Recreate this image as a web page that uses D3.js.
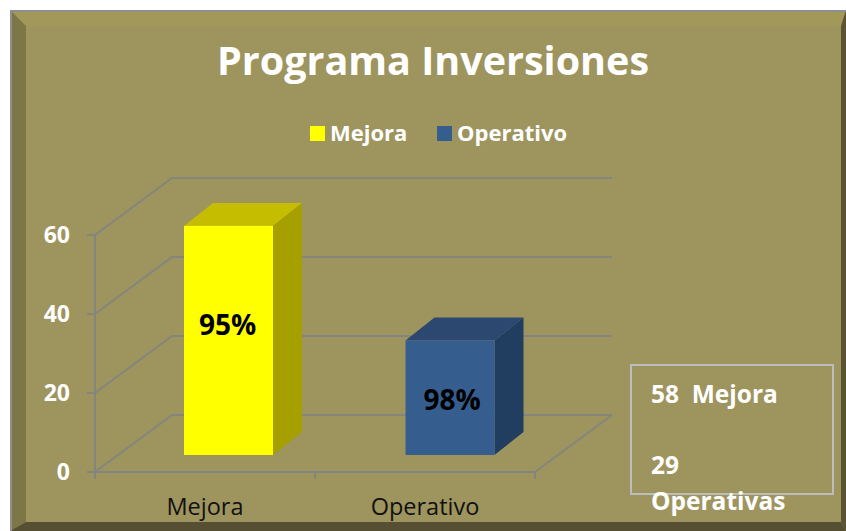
<!DOCTYPE html>
<html>
<head>
<meta charset="utf-8">
<script src="https://cdn.jsdelivr.net/npm/d3@7"></script>
<style>
  html,body{margin:0;padding:0;background:#fff;overflow:hidden}
  text{font-family:"Open Sans",Lato,sans-serif;white-space:pre}
</style>
</head>
<body>
<svg id="chart" width="846" height="531"></svg>
<script>
/* ---------- data ---------- */
const categories = ['Mejora','Operativo'];
const values     = [58,29];
const percents   = ['95%','98%'];
const yTicks     = [0,20,40,60];
const noteLines  = ['58  Mejora','','29','Operativas'];

/* ---------- colours per series: front, top, side ---------- */
const barColours = [
  {front:'#ffff00', top:'#c4bd00', side:'#a5a000'},
  {front:'#355e8f', top:'#2c4870', side:'#213d5f'}
];

const svg = d3.select('#chart');

/* ---------- frame + bevel ---------- */
const F = {l:10, t:10, r:846, b:531, il:26, it:26, ir:841, ib:522};
const pts = a => a.map(p=>p.join(',')).join(' ');

svg.append('rect').attr('x',F.l).attr('y',F.t).attr('width',F.r-F.l).attr('height',F.b-F.t).attr('fill','#9e945e');
svg.append('polygon').attr('points',pts([[F.l,F.t],[F.r,F.t],[F.ir,F.it],[F.il,F.it]])).attr('fill','#a29859');
svg.append('polygon').attr('points',pts([[F.l,F.t],[F.il,F.it],[F.il,F.ib],[F.l,F.b]])).attr('fill','#7d7747');
svg.append('polygon').attr('points',pts([[F.r,F.t],[F.r,F.b],[F.ir,F.ib],[F.ir,F.it]])).attr('fill','#5a5435');
svg.append('polygon').attr('points',pts([[F.l,F.b],[F.il,F.ib],[F.ir,F.ib],[F.r,F.b]])).attr('fill','#564f33');
svg.append('path').attr('d',`M${F.l+1},${F.b}V${F.t+1}H${F.r}`)
   .attr('fill','none').attr('stroke','#8e8e8e').attr('stroke-width',2);

/* ---------- title ---------- */
svg.append('text').attr('x',433).attr('y',75).attr('text-anchor','middle')
   .attr('fill','#fff').attr('font-weight',700).attr('font-size',39.5)
   .text('Programa Inversiones');

/* ---------- legend ---------- */
const legendX = [310,437];
const lg = svg.append('g').selectAll('g').data(categories).enter().append('g')
   .attr('transform',(d,i)=>`translate(${legendX[i]},126)`);
lg.append('rect').attr('width',15).attr('height',15).attr('fill',(d,i)=>barColours[i].front);
lg.append('text').attr('x',20).attr('y',15).attr('fill','#fff')
   .attr('font-weight',700).attr('font-size',22).text(d=>d);

/* ---------- scales ---------- */
const xAxis = d3.scaleBand().domain(categories).range([95,535]);   // axis + labels
const xBars = d3.scaleBand().domain(categories).range([95,538]);   // bars sit a bit wider
const y = d3.scaleLinear().domain([0,60]).range([472,235]);
const backDx = 77, backDy = -57;      // floor depth
const gridCol = '#85857f';

/* ---------- back wall, side wall, floor ---------- */
const grid = svg.append('g').attr('fill','none').attr('stroke',gridCol).attr('stroke-width',2);
yTicks.forEach(t=>{
  grid.append('path').attr('d',
    `M${xAxis.range()[0]},${y(t)}L${xAxis.range()[0]+backDx},${y(t)+backDy}H${xAxis.range()[1]+backDx}`);
  grid.append('line').attr('x1',87).attr('x2',95).attr('y1',y(t)).attr('y2',y(t));
});
grid.append('line').attr('x1',95).attr('x2',95).attr('y1',y(60)).attr('y2',y(0)+7);
grid.append('line').attr('x1',95).attr('x2',xAxis.range()[1]).attr('y1',y(0)).attr('y2',y(0));
grid.append('line').attr('x1',xAxis.range()[1]).attr('x2',xAxis.range()[1]+backDx)
    .attr('y1',y(0)).attr('y2',y(0)+backDy);
[95,315,535].forEach(px=>{
  grid.append('line').attr('x1',px).attr('x2',px).attr('y1',y(0)).attr('y2',y(0)+7);
});

/* ---------- y tick labels ---------- */
svg.append('g').selectAll('text').data(yTicks).enter().append('text')
   .attr('x',70).attr('y',d=>y(d)+8).attr('text-anchor','end')
   .attr('fill','#fff').attr('font-weight',700).attr('font-size',23)
   .text(d=>d);

/* ---------- x tick labels ---------- */
svg.append('g').selectAll('text').data(categories).enter().append('text')
   .attr('x',d=>xAxis(d)+xAxis.bandwidth()/2).attr('y',515).attr('text-anchor','middle')
   .attr('fill','#111').attr('font-size',23.5)
   .text(d=>d);

/* ---------- 3d bars ---------- */
const barW = 89, midDx = 22.75, midDy = -17, depthDx = 29, depthDy = -23;
const bars = svg.append('g').selectAll('g').data(values).enter().append('g');

bars.each(function(v,i){
  const g  = d3.select(this),
        c  = barColours[i],
        x0 = xBars(categories[i]) + xBars.bandwidth()/2 + midDx - barW/2,
        x1 = x0 + barW,
        yb = y(0) + midDy,
        yt = y(v) + midDy;
  g.append('polygon').attr('fill',c.top)
   .attr('points',pts([[x0,yt],[x1,yt],[x1+depthDx,yt+depthDy],[x0+depthDx,yt+depthDy]]));
  g.append('polygon').attr('fill',c.side)
   .attr('points',pts([[x1,yt],[x1+depthDx,yt+depthDy],[x1+depthDx,yb+depthDy],[x1,yb]]));
  g.append('rect').attr('x',x0).attr('y',yt).attr('width',barW).attr('height',yb-yt).attr('fill',c.front);
});

/* ---------- percentage labels ---------- */
const labelY = [335,410];
bars.append('text')
   .attr('x',(d,i)=>xBars(categories[i])+xBars.bandwidth()/2+midDx-(i?-2:1))
   .attr('y',(d,i)=>labelY[i])
   .attr('text-anchor','middle').attr('fill','#000')
   .attr('font-weight',700).attr('font-size',28)
   .text((d,i)=>percents[i]);

/* ---------- note box ---------- */
svg.append('rect').attr('x',631).attr('y',365).attr('width',202).attr('height',129)
   .attr('fill','none').attr('stroke','#bdbdbd').attr('stroke-width',2);
const noteY = [403,0,474,510];
svg.append('g').selectAll('text').data(noteLines).enter().append('text')
   .attr('x',651).attr('y',(d,i)=>noteY[i])
   .attr('fill','#fff').attr('font-weight',700).attr('font-size',24.5)
   .text(d=>d);
</script>
</body>
</html>
